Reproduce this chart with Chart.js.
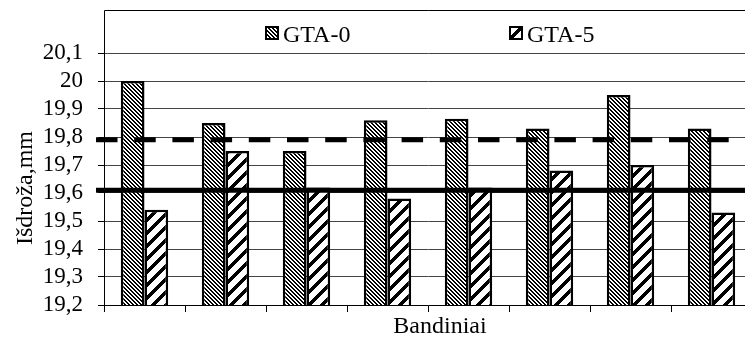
<!DOCTYPE html>
<html><head><meta charset="utf-8">
<script src="https://cdn.jsdelivr.net/npm/chart.js@4.4.0/dist/chart.umd.min.js"></script>
<style>html,body{margin:0;padding:0;overflow:hidden;background:#fff}canvas{display:block}</style>
</head><body>
<canvas id="c" width="752" height="343"></canvas>
<script>
// ---- data ----
const categories = ['1', '2', '3', '4', '5', '6', '7', '8'];
const seriesNames = ['GTA-0', 'GTA-5'];
const gta0 = [20.00, 19.85, 19.75, 19.86, 19.865, 19.83, 19.95, 19.83];
const gta5 = [19.54, 19.75, 19.62, 19.58, 19.62, 19.68, 19.70, 19.53];
const dashedLevel = 19.79;
const solidLevel = 19.61;
const yMin = 19.2, yMax = 20.1, yStep = 0.1;
const yTitle = 'Išdroža,mm';
const xTitle = 'Bandiniai';

const canvas = document.getElementById('c');
const ctx = canvas.getContext('2d');
const FONT = '"Liberation Serif", "Times New Roman", serif';

function tile(size, fn) {
  const t = document.createElement('canvas');
  t.width = size; t.height = size;
  const g = t.getContext('2d');
  g.fillStyle = '#fff'; g.fillRect(0, 0, size, size);
  g.fillStyle = '#000';
  for (let y = 0; y < size; y++) for (let x = 0; x < size; x++) if (fn(x, y)) g.fillRect(x, y, 1, 1);
  return ctx.createPattern(t, 'repeat');
}
const pat0 = tile(4, (x, y) => ((x - y + 8) % 4) < 2);        // "\" thin dense hatch
const pat5 = tile(13, (x, y) => ((x + y) % 13) < 5);          // "/" wide hatch

// horizontal reference levels, drawn through the y scale
const levelPlugin = {
  id: 'levels',
  afterDatasetsDraw(chart) {
    const {ctx, chartArea: a, scales: {y}} = chart;
    ctx.save();
    ctx.strokeStyle = '#000';
    ctx.lineWidth = 5;
    ctx.lineCap = 'butt';
    [[dashedLevel, [21.5, 16.7]], [solidLevel, []]].forEach(([v, dash]) => {
      const py = y.getPixelForValue(v);
      ctx.setLineDash(dash);
      ctx.beginPath();
      ctx.moveTo(a.left - 8, py);
      ctx.lineTo(a.right, py);
      ctx.stroke();
    });
    ctx.restore();
  }
};

const legendPlugin = {
  id: 'legendBox',
  afterDraw(chart) {
    const {ctx, chartArea: a} = chart;
    ctx.save();
    ctx.strokeStyle = '#000';
    ctx.lineWidth = 1;
    const top = a.top - 43;
    ctx.beginPath();
    ctx.moveTo(a.left + 0.5, a.top);
    ctx.lineTo(a.left + 0.5, top + 0.5);
    ctx.lineTo(a.right, top + 0.5);
    ctx.stroke();
    const items = [{x: a.left + 162, pat: pat0, name: seriesNames[0]}, {x: a.left + 406, pat: pat5, name: seriesNames[1]}];
    ctx.font = '24px ' + FONT;
    ctx.textBaseline = 'alphabetic';
    items.forEach(it => {
      ctx.fillStyle = it.pat;
      ctx.fillRect(it.x, top + 17, 12, 12);
      ctx.lineWidth = 2;
      ctx.strokeStyle = '#000';
      ctx.strokeRect(it.x, top + 17, 12, 12);
      ctx.fillStyle = '#000';
      ctx.fillText(it.name, it.x + 17, top + 31.5);
    });
    ctx.restore();
  }
};

const fmt = v => {
  const r = Math.round(v * 10) / 10;
  return Number.isInteger(r) ? String(r) : r.toFixed(1).replace('.', ',');
};

const barStyle = {borderColor: '#000', borderWidth: 2.5, categoryPercentage: 0.585, barPercentage: 1.0};

new Chart(ctx, {
  type: 'bar',
  data: {
    labels: categories,
    datasets: [
      Object.assign({label: seriesNames[0], data: gta0, backgroundColor: pat0}, barStyle),
      Object.assign({label: seriesNames[1], data: gta5, backgroundColor: pat5}, barStyle)
    ]
  },
  options: {
    responsive: false,
    animation: false,
    devicePixelRatio: 1,
    layout: {padding: {top: 53, left: 0, right: 0, bottom: 0}},
    plugins: {legend: {display: false}, tooltip: {enabled: false}},
    scales: {
      x: {
        offset: true,
        grid: {offset: true, drawOnChartArea: false, drawTicks: true, tickLength: 7, tickColor: '#000'},
        border: {display: true, color: '#000', width: 1},
        ticks: {display: false},
        title: {display: true, text: '    ' + xTitle, color: '#000', font: {family: FONT, size: 24}, padding: {top: 0, bottom: 2}},
        afterFit: s => { s.height = 38; }
      },
      y: {
        min: yMin, max: yMax,
        ticks: {stepSize: yStep, autoSkip: false, callback: fmt, color: '#000', font: {family: FONT, size: 23}, padding: 15},
        grid: {color: '#444', tickLength: 6, tickColor: '#000'},
        border: {display: true, color: '#000', width: 1},
        title: {display: true, text: yTitle + '   ', color: '#000', font: {family: FONT, size: 24}, padding: {top: 11, bottom: 0}},
        afterFit: s => { s.width = 104; }
      }
    }
  },
  plugins: [levelPlugin, legendPlugin]
});
</script>
</body></html>
